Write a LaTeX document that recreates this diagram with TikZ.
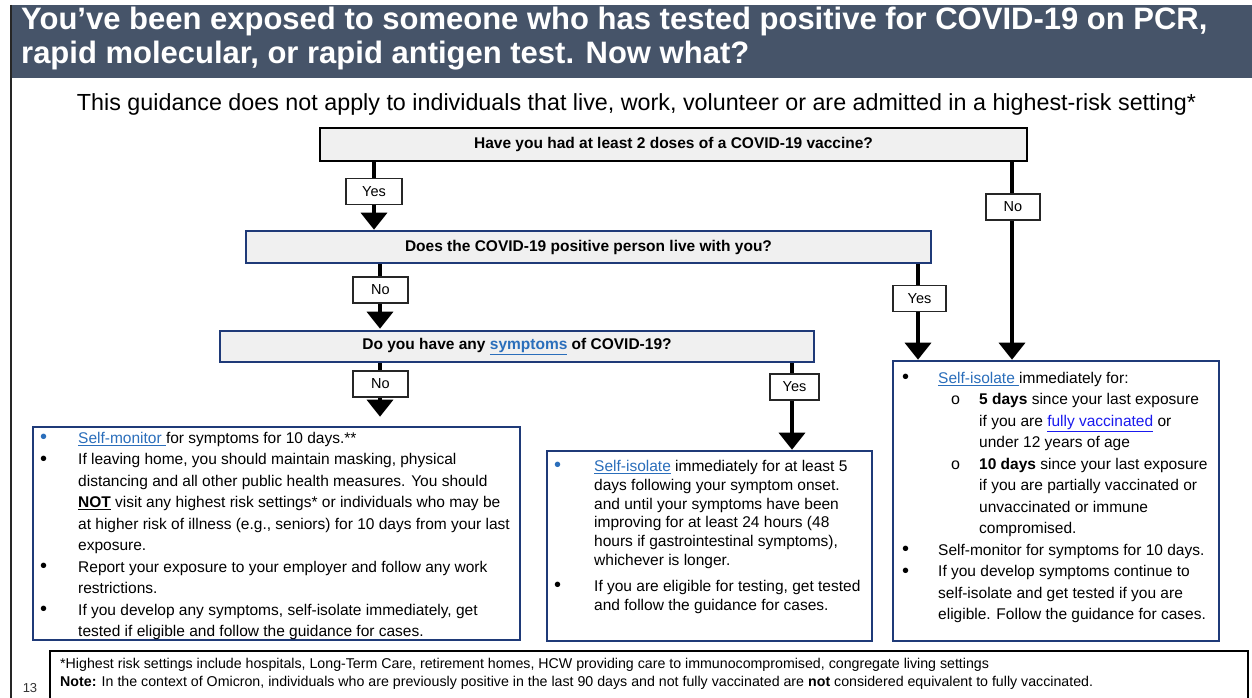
\documentclass[tikz,border=0pt]{standalone}
\usepackage{fontspec}
\setmainfont{Liberation Sans}
\usetikzlibrary{arrows.meta}
\definecolor{titlebar}{HTML}{465469}
\definecolor{navy}{HTML}{1F3A78}
\definecolor{qfill}{HTML}{F0F0F0}
\definecolor{linkblue}{HTML}{2A6EBB}
\definecolor{linkpure}{HTML}{1A1AEE}
\newcommand\lnk[1]{\textcolor{linkblue}{\underline{#1}}}
\newcommand\bdot{{\fontsize{20}{20}\selectfont\raisebox{-0.5pt}{•}}}
\newcommand\bulA{\makebox[40pt][l]{\hspace{2pt}\bdot}}
\newcommand\bulAb{\textcolor{linkblue}{\makebox[40pt][l]{\hspace{2pt}\bdot}}}
\newcommand\bulB{\makebox[42pt][l]{\hspace{2pt}\bdot}}
\newcommand\bulBb{\textcolor{linkblue}{\makebox[42pt][l]{\hspace{2pt}\bdot}}}
\newcommand\bulC{\makebox[35pt][l]{\hspace{-1pt}\bdot}}
\newcommand\subC{\hspace*{48pt}\makebox[28pt][l]{\fontsize{16}{16}\selectfont o}}
\begin{document}
\begin{tikzpicture}[x=1pt,y=-1pt,
  qbox/.style={draw=navy, line width=2.6pt, fill=qfill, inner sep=0pt,
    font=\fontsize{15.5}{18}\selectfont\bfseries},
  abox/.style={draw=navy, line width=2.6pt, fill=white, inner sep=0pt},
  lblbox/.style={draw=black!85, line width=1.4pt, fill=white, inner sep=0pt,
    minimum height=26pt, font=\fontsize{14.5}{16}\selectfont},
  arr/.style={line width=3.6pt, -{Triangle[width=26pt,length=17pt]}},
  txt/.style={anchor=north west, inner sep=0pt, align=left,
    font=\fontsize{15.5}{21.5}\selectfont}
]
\useasboundingbox (0,0) rectangle (1252,698);
\fill[white] (0,0) rectangle (1252,698);
% title bar and page edge
\fill[titlebar] (12,5) rectangle (1252,78);
\draw[line width=2.6pt, black!85] (11,5) -- (11,698);
\node[anchor=north west, inner sep=0pt, align=left, text=white,
  font=\fontsize{31}{34}\selectfont\bfseries] (title) at (21,7)
  {You’ve been exposed to someone who has tested positive for COVID-19 on PCR,\\
   rapid molecular, or rapid antigen test. Now what?};
\node[anchor=base, inner sep=0pt, font=\fontsize{23.3}{26}\selectfont] (sub) at (636.5,111)
  {This guidance does not apply to individuals that live, work, volunteer or are admitted in a highest-risk setting*};

% questions
\node[qbox, draw=black, minimum width=707pt, minimum height=33pt] (q1) at (673.5,144.5)
  {Have you had at least 2 doses of a COVID-19 vaccine?};
\node[qbox, minimum width=685pt, minimum height=32pt] (q2) at (588.5,247)
  {Does the COVID-19 positive person live with you?};
\node[qbox, minimum width=594pt, minimum height=31pt] (q3) at (517,346.5)
  {Do you have any \textcolor{linkblue}{\underline{symptoms}} of COVID-19?};

% answer boxes
\node[abox, minimum width=487pt, minimum height=213pt] (boxA) at (276.5,533.5) {};
\node[abox, minimum width=325pt, minimum height=190pt] (boxB) at (709.5,546) {};
\node[abox, minimum width=326pt, minimum height=280pt] (boxC) at (1056,501) {};
\node[draw=black, line width=1.5pt, minimum width=1198pt, minimum height=56pt, inner sep=0pt] (foot) at (649,679) {};

% column coordinates
\coordinate (xa) at (374,0);
\coordinate (xb) at (1012,0);
\coordinate (xc) at (380,0);
\coordinate (xd) at (918,0);
\coordinate (xe) at (792,0);

% connectors
\draw[arr] (q1.south -| xa) -- (q2.north -| xa);
\draw[arr] (q1.south -| xb) -- (boxC.north -| xb);
\draw[arr] (q2.south -| xc) -- ([yshift=1pt]q3.north -| xc);
\draw[arr] (q2.south -| xd) -- (boxC.north -| xd);
\draw[arr, shorten >=9pt] (q3.south -| xc) -- (boxA.north -| xc);
\draw[arr] (q3.south -| xe) -- (boxB.north -| xe);

% labels
\node[lblbox, minimum width=56pt] (l1) at (374,191.5) {Yes};
\node[lblbox, minimum width=54pt] (l2) at (1013,207) {No};
\node[lblbox, minimum width=55pt] (l3) at (380.5,290) {No};
\node[lblbox, minimum width=53pt] (l4) at (919.5,298.5) {Yes};
\node[lblbox, minimum width=55pt] (l5) at (380.5,384) {No};
\node[lblbox, minimum width=49pt] (l6) at (794.5,387) {Yes};

% box texts
\node[txt] (tA) at (38,432) {%
\bulAb\lnk{Self-monitor }for symptoms for 10 days.**\\
\bulA If leaving home, you should maintain masking, physical\\
\hspace*{40pt}distancing and all other public health measures. You should\\
\hspace*{40pt}\underline{\textbf{NOT}} visit any highest risk settings* or individuals who may be\\
\hspace*{40pt}at higher risk of illness (e.g., seniors) for 10 days from your last\\
\hspace*{40pt}exposure.\\
\bulA Report your exposure to your employer and follow any work\\
\hspace*{40pt}restrictions.\\
\bulA If you develop any symptoms, self-isolate immediately, get\\
\hspace*{40pt}tested if eligible and follow the guidance for cases.};

\node[txt, font=\fontsize{15.5}{18.8}\selectfont] (tB) at (552,460) {%
\bulBb\lnk{Self-isolate} immediately for at least 5\\
\hspace*{42pt}days following your symptom onset.\\
\hspace*{42pt}and until your symptoms have been\\
\hspace*{42pt}improving for at least 24 hours (48\\
\hspace*{42pt}hours if gastrointestinal symptoms),\\
\hspace*{42pt}whichever is longer.\\[7pt]
\bulB If you are eligible for testing, get tested\\
\hspace*{42pt}and follow the guidance for cases.};

\node[txt] (tC) at (903,372) {%
\bulC\lnk{Self-isolate }immediately for:\\
\subC\textbf{5 days} since your last exposure\\
\hspace*{76pt}if you are \textcolor{linkpure}{\underline{fully vaccinated}} or\\
\hspace*{76pt}under 12 years of age\\
\subC\textbf{10 days} since your last exposure\\
\hspace*{76pt}if you are partially vaccinated or\\
\hspace*{76pt}unvaccinated or immune\\
\hspace*{76pt}compromised.\\
\bulC Self-monitor for symptoms for 10 days.\\
\bulC If you develop symptoms continue to\\
\hspace*{35pt}self-isolate and get tested if you are\\
\hspace*{35pt}eligible. Follow the guidance for cases.};

\node[txt, font=\fontsize{14.2}{18}\selectfont] (tF) at (60,658.5) {%
*Highest risk settings include hospitals, Long-Term Care, retirement homes, HCW providing care to immunocompromised, congregate living settings\\
\textbf{Note:} In the context of Omicron, individuals who are previously positive in the last 90 days and not fully vaccinated are \textbf{not} considered equivalent to fully vaccinated.};

\node[inner sep=0pt, font=\fontsize{13}{14}\selectfont, text=black!80] (pg) at (30,688) {13};
\end{tikzpicture}
\end{document}
